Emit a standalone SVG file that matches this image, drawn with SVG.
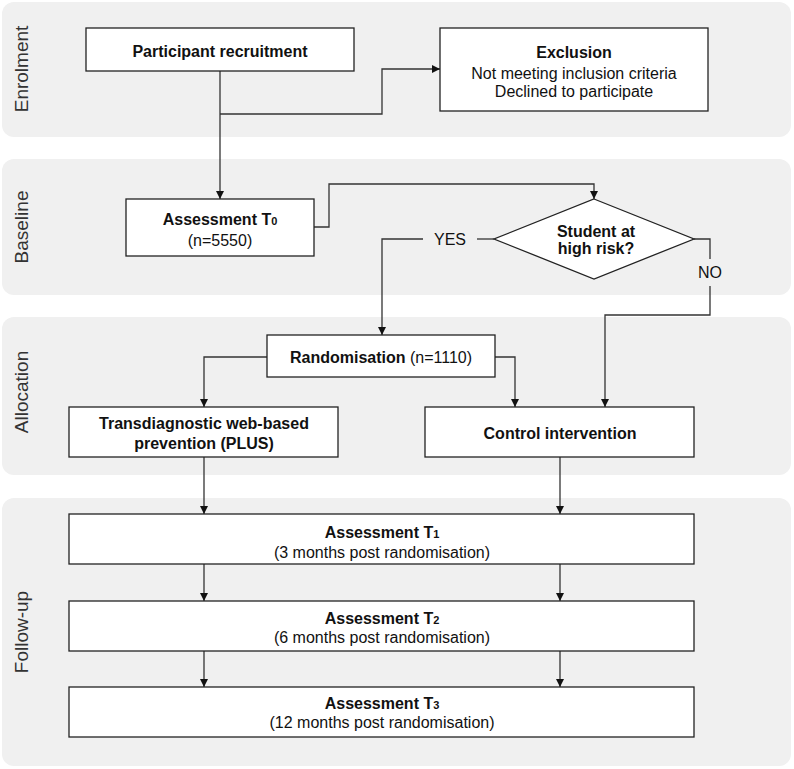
<svg xmlns="http://www.w3.org/2000/svg" width="794" height="769" viewBox="0 0 794 769">
<defs>
<marker id="arr" markerWidth="8" markerHeight="8" refX="8" refY="4" orient="auto" markerUnits="userSpaceOnUse">
<path d="M0,0 L8,4 L0,8 Z" fill="#111"/>
</marker>
<style>
.lane{fill:#f0f0f0;stroke:none}
.lab{font-family:"Liberation Sans",Arial,sans-serif;font-size:19px;fill:#333;text-anchor:middle}
.box{fill:#fff;stroke:#222;stroke-width:1.3}
.t{font-family:"Liberation Sans",Arial,sans-serif;font-size:16px;fill:#111;text-anchor:middle}
.b{font-weight:bold}
.c{fill:none;stroke:#333;stroke-width:1.3}
.ca{fill:none;stroke:#333;stroke-width:1.3;marker-end:url(#arr)}
</style>
</defs>
<rect width="794" height="769" fill="#fff"/>
<g id="lanes">
<rect class="lane" x="2" y="2" width="789" height="135" rx="12"/>
<rect class="lane" x="2" y="159" width="789" height="136" rx="12"/>
<rect class="lane" x="2" y="317" width="789" height="158" rx="12"/>
<rect class="lane" x="2" y="498" width="789" height="268" rx="12"/>
<text class="lab" transform="translate(28,69) rotate(-90)">Enrolment</text>
<text class="lab" transform="translate(28,227) rotate(-90)">Baseline</text>
<text class="lab" transform="translate(28,392) rotate(-90)">Allocation</text>
<text class="lab" transform="translate(28,632) rotate(-90)">Follow-up</text>
</g>
<g id="connectors">
<path class="ca" d="M220,71 V199"/>
<path class="ca" d="M220,114 H382 V69 H440"/>
<path class="ca" d="M314,227 H329 V184 H594 V199"/>
<path class="c" d="M494,239 H477"/>
<path class="ca" d="M423,239 H382 V335"/>
<path class="c" d="M694,239 H710 V259"/>
<path class="ca" d="M710,286 V315 H605 V407"/>
<path class="ca" d="M267,357 H204 V407"/>
<path class="ca" d="M495,357 H515 V407"/>
<path class="ca" d="M204,457 V514"/>
<path class="ca" d="M560,457 V514"/>
<path class="ca" d="M204,564 V601"/>
<path class="ca" d="M560,564 V601"/>
<path class="ca" d="M204,651 V687"/>
<path class="ca" d="M560,651 V687"/>
<text class="t" x="450" y="245">YES</text>
<text class="t" x="710" y="278">NO</text>
</g>
<g id="recruitment">
<rect class="box" x="86" y="28" width="268" height="43"/>
<text class="t b" x="220" y="57">Participant recruitment</text>
</g>
<g id="exclusion">
<rect class="box" x="440" y="28" width="268" height="83"/>
<text class="t b" x="574" y="58">Exclusion</text>
<text class="t" x="574" y="79">Not meeting inclusion criteria</text>
<text class="t" x="574" y="97">Declined to participate</text>
</g>
<g id="t0">
<rect class="box" x="126" y="199" width="188" height="57"/>
<text class="t b" x="220" y="225">Assessment T<tspan font-size="11">0</tspan></text>
<text class="t" x="220" y="246">(n=5550)</text>
</g>
<g id="decision">
<path class="box" d="M594,199 L694,239 L594,279 L494,239 Z"/>
<text class="t b" x="596" y="237">Student at</text>
<text class="t b" x="596" y="254">high risk?</text>
</g>
<g id="randomisation">
<rect class="box" x="267" y="335" width="228" height="42"/>
<text class="t" x="381" y="363"><tspan font-weight="bold">Randomisation</tspan> (n=1110)</text>
</g>
<g id="plus">
<rect class="box" x="69" y="407" width="269" height="50"/>
<text class="t b" x="204" y="429">Transdiagnostic web-based</text>
<text class="t b" x="204" y="449">prevention (PLUS)</text>
</g>
<g id="control">
<rect class="box" x="425" y="407" width="269" height="50"/>
<text class="t b" x="560" y="439">Control intervention</text>
</g>
<g id="t1">
<rect class="box" x="69" y="514" width="625" height="50"/>
<text class="t b" x="382" y="538">Assessment T<tspan font-size="11">1</tspan></text>
<text class="t" x="382" y="558">(3 months post randomisation)</text>
</g>
<g id="t2">
<rect class="box" x="69" y="601" width="625" height="50"/>
<text class="t b" x="382" y="624">Assessment T<tspan font-size="11">2</tspan></text>
<text class="t" x="382" y="643">(6 months post randomisation)</text>
</g>
<g id="t3">
<rect class="box" x="69" y="687" width="625" height="50"/>
<text class="t b" x="382" y="709">Assessment T<tspan font-size="11">3</tspan></text>
<text class="t" x="382" y="728">(12 months post randomisation)</text>
</g>
</svg>
